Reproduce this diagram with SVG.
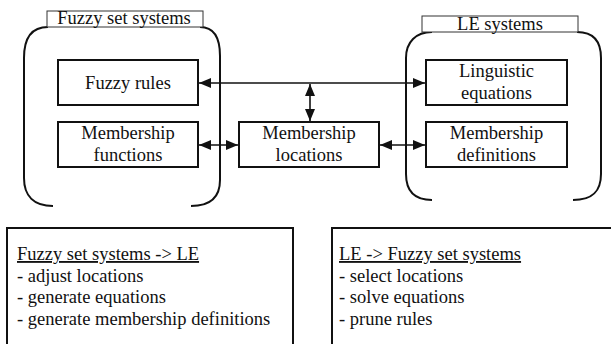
<svg xmlns="http://www.w3.org/2000/svg" width="611" height="344" viewBox="0 0 611 344">
<style>
text{font-family:"Liberation Serif","Times New Roman",serif;font-size:18.5px;fill:#111}
.c{text-anchor:middle}
.box{fill:#fff;stroke:#111;stroke-width:2}
.lbl{fill:#fff;stroke:#333;stroke-width:1}
.cont{fill:none;stroke:#111;stroke-width:2}
.conn{fill:none;stroke:#111;stroke-width:1.6}
</style>
<defs>
<marker id="ah" viewBox="0 0 12 10" refX="12" refY="5" markerWidth="12" markerHeight="10" markerUnits="userSpaceOnUse" orient="auto-start-reverse">
<path d="M0,0 L12,5 L0,10 Z" fill="#111"/>
</marker>
</defs>
<rect width="611" height="344" fill="#fff"/>

<g id="fuzzy-set-systems">
<path class="cont" d="M48,27 C32,27 24,38 24,58 L24,178 C24,196 34,206 53,206"/>
<path class="cont" d="M200,27 C214,27 220,38 220,56 L220,180 C220,197 210,206 191,206"/>
<rect class="lbl" x="47" y="11" width="156" height="16"/>
<text class="c" x="124" y="24">Fuzzy set systems</text>
</g>

<g id="le-systems">
<path class="cont" d="M432,32 C416,32 406,42 406,58 L406,174 C406,192 416,200 432,200"/>
<path class="cont" d="M577,32 C594,32 601,42 601,58 L601,174 C601,192 592,200 573,200"/>
<rect class="lbl" x="422" y="16" width="156" height="16"/>
<text class="c" x="500" y="30">LE systems</text>
</g>

<g id="fuzzy-rules">
<rect class="box" x="58" y="60" width="140" height="45"/>
<text class="c" x="128" y="89">Fuzzy rules</text>
</g>

<g id="membership-functions">
<rect class="box" x="58" y="122" width="140" height="45"/>
<text class="c" x="128" y="139">Membership</text>
<text class="c" x="128" y="161">functions</text>
</g>

<g id="membership-locations">
<rect class="box" x="239" y="122" width="140" height="45"/>
<text class="c" x="309" y="139">Membership</text>
<text class="c" x="309" y="161">locations</text>
</g>

<g id="linguistic-equations">
<rect class="box" x="426" y="60" width="141" height="45"/>
<text class="c" x="496.5" y="77">Linguistic</text>
<text class="c" x="496.5" y="99">equations</text>
</g>

<g id="membership-definitions">
<rect class="box" x="426" y="122" width="141" height="45"/>
<text class="c" x="496.5" y="139">Membership</text>
<text class="c" x="496.5" y="161">definitions</text>
</g>

<g id="connectors">
<path class="conn" d="M199,83 L425,83" marker-start="url(#ah)" marker-end="url(#ah)"/>
<path class="conn" d="M310,84 L310,121" marker-start="url(#ah)" marker-end="url(#ah)"/>
<path class="conn" d="M199,145 L238,145" marker-start="url(#ah)" marker-end="url(#ah)"/>
<path class="conn" d="M380,145 L425,145" marker-start="url(#ah)" marker-end="url(#ah)"/>
</g>

<g id="fuzzy-to-le">
<rect class="box" x="7" y="228" width="286" height="130"/>
<text x="17" y="260" text-decoration="underline">Fuzzy set systems -&gt; LE</text>
<text x="17" y="282">- adjust locations</text>
<text x="17" y="303">- generate equations</text>
<text x="17" y="325">- generate membership definitions</text>
</g>

<g id="le-to-fuzzy">
<rect class="box" x="332" y="228" width="300" height="130"/>
<text x="339" y="260" text-decoration="underline">LE -&gt; Fuzzy set systems</text>
<text x="339" y="282">- select locations</text>
<text x="339" y="303">- solve equations</text>
<text x="339" y="325">- prune rules</text>
</g>
</svg>
